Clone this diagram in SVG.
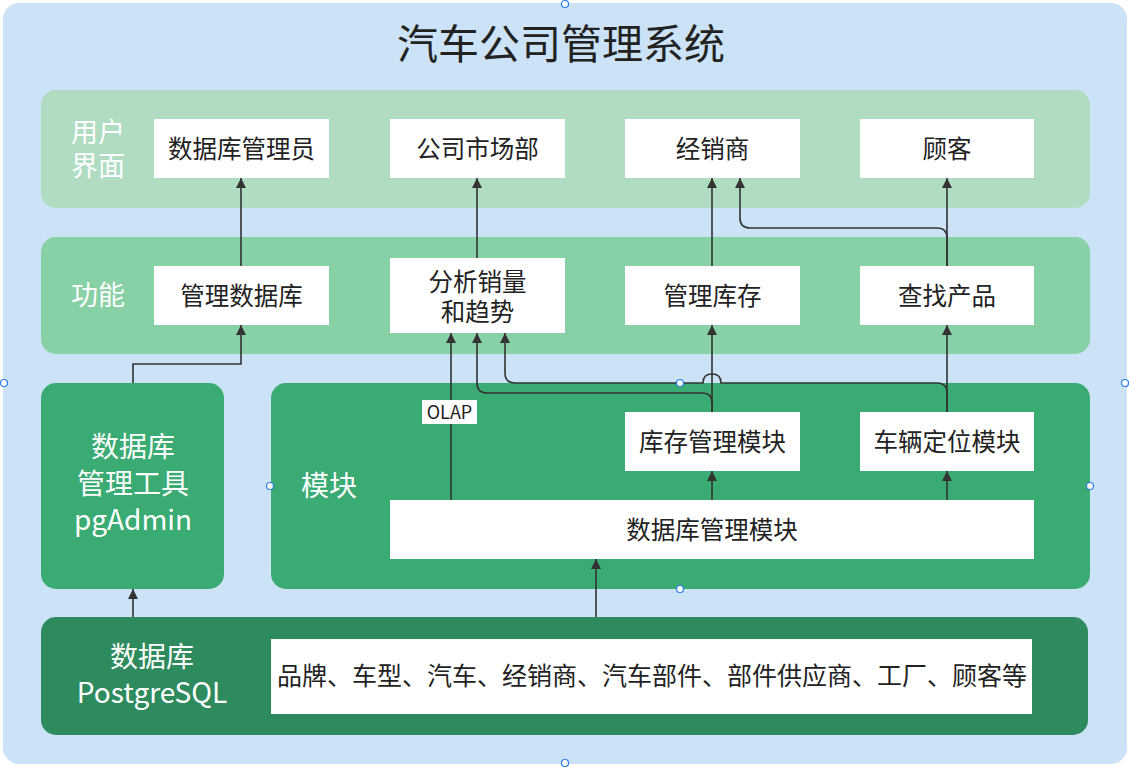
<svg xmlns="http://www.w3.org/2000/svg" width="1129" height="767" viewBox="0 0 1129 767">
<style>
text{font-family:"Noto Sans CJK SC","Noto Sans",sans-serif;}
.box{fill:#ffffff;}
.bt{font-size:24.5px;fill:#222;text-anchor:middle;dominant-baseline:central;}
.lbl{font-size:27px;fill:#ffffff;text-anchor:middle;dominant-baseline:central;}
.c{fill:none;stroke:#333;stroke-width:1.6;}
.h{fill:#fff;stroke:#2a7ce6;stroke-width:1.2;}
</style>
<defs>
<marker id="ar" markerUnits="userSpaceOnUse" markerWidth="12" markerHeight="12" refX="10" refY="5" orient="auto">
<path d="M0,0 L10,5 L0,10 Z" fill="#333"/>
</marker>
</defs>
<g id="container">
<rect x="3" y="3" width="1124" height="761" rx="16" fill="#cce2f6"/>
<text x="561" y="41" style="font-size:41px;fill:#222;text-anchor:middle;dominant-baseline:central;">汽车公司管理系统</text>
</g>
<g id="row-ui">
<rect x="41" y="90" width="1049" height="118" rx="15" fill="#b0dcc2"/>
<text class="lbl" x="98" y="130">用户</text>
<text class="lbl" x="98" y="164">界面</text>
</g>
<g id="n-dba"><rect class="box" x="154" y="119" width="175" height="59"/><text class="bt" x="241.5" y="147">数据库管理员</text></g>
<g id="n-market"><rect class="box" x="390" y="119" width="175" height="59"/><text class="bt" x="477.5" y="147">公司市场部</text></g>
<g id="n-dealer"><rect class="box" x="625" y="119" width="175" height="59"/><text class="bt" x="712.5" y="147">经销商</text></g>
<g id="n-customer"><rect class="box" x="860" y="119" width="174" height="59"/><text class="bt" x="947" y="147">顾客</text></g>
<g id="row-func">
<rect x="41" y="237" width="1049" height="117" rx="15" fill="#88d0a5"/>
<text class="lbl" x="98" y="293">功能</text>
</g>
<g id="n-managedb"><rect class="box" x="154" y="266" width="175" height="59"/><text class="bt" x="241.5" y="294">管理数据库</text></g>
<g id="n-analyze"><rect class="box" x="390" y="258" width="175" height="75"/><text class="bt" x="477.5" y="280">分析销量</text><text class="bt" x="477.5" y="310">和趋势</text></g>
<g id="n-stock"><rect class="box" x="625" y="266" width="175" height="59"/><text class="bt" x="712.5" y="294">管理库存</text></g>
<g id="n-find"><rect class="box" x="860" y="266" width="174" height="59"/><text class="bt" x="947" y="294">查找产品</text></g>
<g id="n-pgadmin">
<rect x="41" y="383" width="183" height="206" rx="15" fill="#3aab73"/>
<text class="lbl" x="133" y="445" style="font-size:28px">数据库</text>
<text class="lbl" x="133" y="482" style="font-size:28px">管理工具</text>
<text class="lbl" x="133" y="518" style="font-size:28px">pgAdmin</text>
</g>
<g id="row-module">
<rect x="271" y="383" width="819" height="206" rx="15" fill="#3aab73"/>
<text class="lbl" x="329" y="484" style="font-size:28px">模块</text>
</g>
<g id="n-stockmod"><rect class="box" x="625" y="412" width="175" height="59"/><text class="bt" x="712.5" y="440">库存管理模块</text></g>
<g id="n-locmod"><rect class="box" x="860" y="412" width="174" height="59"/><text class="bt" x="947" y="440">车辆定位模块</text></g>
<g id="n-dbmod"><rect class="box" x="390" y="500" width="644" height="59"/><text class="bt" x="712" y="528">数据库管理模块</text></g>
<g id="n-postgres">
<rect x="41" y="617" width="1047" height="118" rx="15" fill="#2e8b5e"/>
<text class="lbl" x="152" y="655" style="font-size:28px">数据库</text>
<text class="lbl" x="152" y="691" style="font-size:28px">PostgreSQL</text>
<rect class="box" x="271" y="639" width="761" height="75"/>
<text class="bt" x="652" y="674" style="font-size:25px">品牌、车型、汽车、经销商、汽车部件、部件供应商、工厂、顾客等</text>
</g>
<g id="connectors">
<path class="c" marker-end="url(#ar)" d="M241,266 V178"/>
<path class="c" marker-end="url(#ar)" d="M477,258 V178"/>
<path class="c" marker-end="url(#ar)" d="M712,266 V178"/>
<path class="c" marker-end="url(#ar)" d="M947,266 V178"/>
<path class="c" marker-end="url(#ar)" d="M947,266 V238 Q947,228 937,228 H750 Q740,228 740,218 V178"/>
<path class="c" marker-end="url(#ar)" d="M133,383 V364 H241 V325"/>
<path class="c" marker-end="url(#ar)" d="M451,500 V333"/>
<path class="c" marker-end="url(#ar)" d="M712,412 V325"/>
<path class="c" marker-end="url(#ar)" d="M712,412 V403 Q712,393 702,393 H487 Q477,393 477,383 V333"/>
<path class="c" marker-end="url(#ar)" d="M947,412 V325"/>
<path class="c" marker-end="url(#ar)" d="M947,412 V393 Q947,383 937,383 H721 Q721,374 712,374 Q703,374 703,383 H515 Q505,383 505,373 V333"/>
<path class="c" marker-end="url(#ar)" d="M712,500 V471"/>
<path class="c" marker-end="url(#ar)" d="M947,500 V471"/>
<path class="c" marker-end="url(#ar)" d="M596,617 V559"/>
<path class="c" marker-end="url(#ar)" d="M133,617 V589"/>
<rect x="422" y="400" width="55" height="24" fill="#fff"/>
<text x="449.5" y="411" style="font-size:18px;fill:#222;text-anchor:middle;dominant-baseline:central;">OLAP</text>
</g>
<g id="handles">
<circle class="h" cx="565" cy="4" r="3.5"/>
<circle class="h" cx="4" cy="383" r="3.5"/>
<circle class="h" cx="1125" cy="383" r="3.5"/>
<circle class="h" cx="565" cy="763" r="3.5"/>
<circle class="h" cx="270" cy="486" r="3.5"/>
<circle class="h" cx="1090" cy="486" r="3.5"/>
<circle class="h" cx="680" cy="383" r="3.5"/>
<circle class="h" cx="680" cy="589" r="3.5"/>
</g>
</svg>
